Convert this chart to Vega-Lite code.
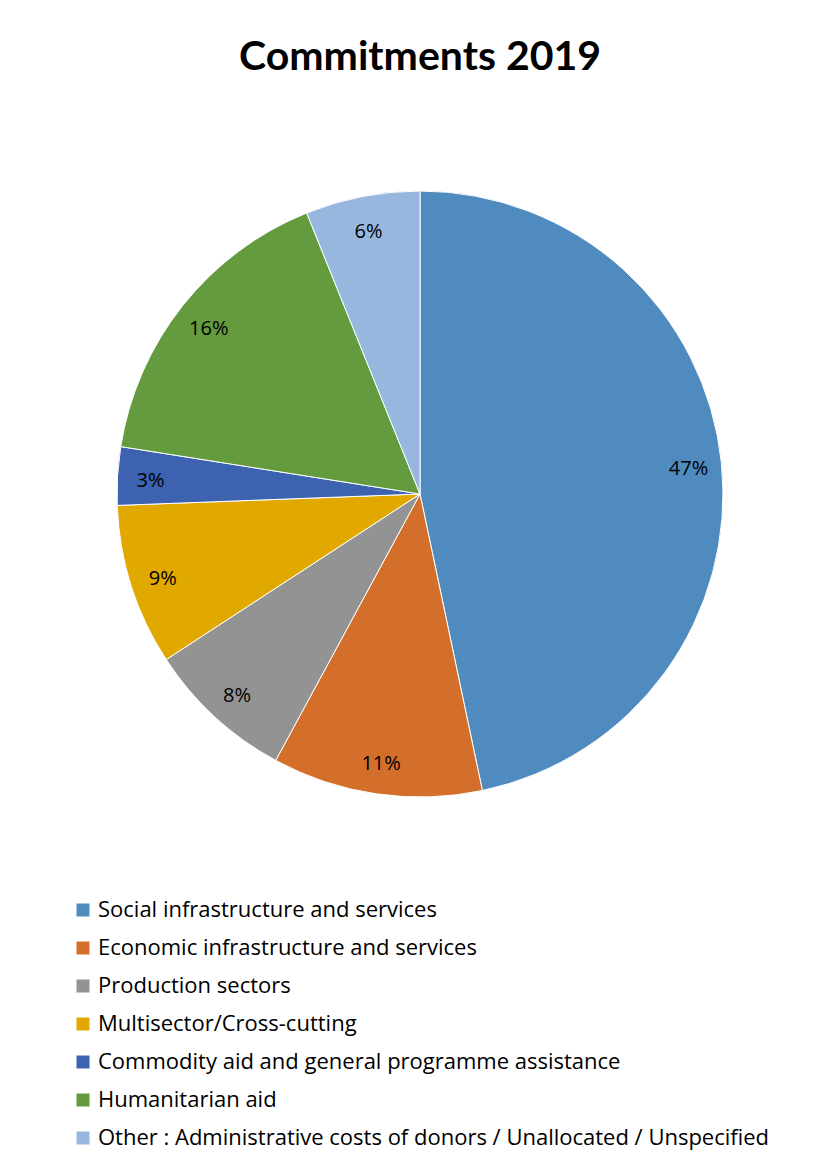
{
  "$schema": "https://vega.github.io/schema/vega-lite/v6.json",
  "width": 606,
  "height": 606,
  "autosize": {"type": "none"},
  "padding": {"left": 117, "top": 191, "right": 95, "bottom": 372},
  "background": "white",
  "config": {"view": {"stroke": null}, "font": "Open Sans"},
  "title": {"text": "Commitments 2019", "fontSize": 41, "fontWeight": "bold", "font": "Lato", "color": "black", "anchor": "middle", "offset": 110},
  "data": {"values": [
    {"category": "Social infrastructure and services", "value": 46.7, "label": "47%", "order": 1},
    {"category": "Economic infrastructure and services", "value": 11.2, "label": "11%", "order": 2},
    {"category": "Production sectors", "value": 7.9, "label": "8%", "order": 3},
    {"category": "Multisector/Cross-cutting", "value": 8.6, "label": "9%", "order": 4},
    {"category": "Commodity aid and general programme assistance", "value": 3.1, "label": "3%", "order": 5},
    {"category": "Humanitarian aid", "value": 16.4, "label": "16%", "order": 6},
    {"category": "Other : Administrative costs of donors / Unallocated / Unspecified", "value": 6.1, "label": "6%", "order": 7}
  ]},
  "encoding": {
    "theta": {"field": "value", "type": "quantitative", "stack": true},
    "order": {"field": "order", "type": "quantitative"},
    "color": {
      "field": "category", "type": "nominal",
      "scale": {
        "domain": ["Social infrastructure and services", "Economic infrastructure and services", "Production sectors", "Multisector/Cross-cutting", "Commodity aid and general programme assistance", "Humanitarian aid", "Other : Administrative costs of donors / Unallocated / Unspecified"],
        "range": ["#4F8BBE", "#D36F2B", "#939393", "#E1A900", "#3C62B0", "#639B3E", "#98B7DF"]
      },
      "legend": {
        "title": null, "orient": "none", "legendX": -45, "legendY": 708,
        "symbolType": "square", "symbolSize": 169, "symbolStrokeWidth": 0,
        "labelFontSize": 22, "labelFont": "Open Sans", "labelColor": "black", "labelOffset": 4,
        "rowPadding": 16, "padding": 0, "labelLimit": 800
      }
    }
  },
  "layer": [
    {"mark": {"type": "arc", "outerRadius": 303, "stroke": "white", "strokeWidth": 1}},
    {"mark": {"type": "text", "radius": 270, "dy": 3, "fontSize": 20, "font": "Open Sans", "color": "black"},
     "encoding": {"text": {"field": "label"}, "color": {"value": "black"}}}
  ]
}
